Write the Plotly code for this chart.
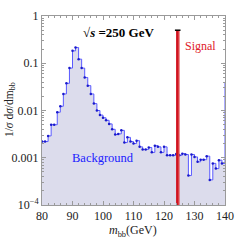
import plotly.graph_objects as go

# ---- data ----
bin_lo = list(range(80, 141))  # left edges of 1 GeV bins (last one is cut by the axis)
bkg = [0.0022, 0.0022, 0.0029, 0.0050, 0.0050, 0.0092, 0.0123, 0.0224, 0.0376, 0.079,
       0.183, 0.215, 0.122, 0.079, 0.050, 0.0336, 0.0224, 0.0140, 0.0100, 0.0080,
       0.0070, 0.0062, 0.0052, 0.0040, 0.0031, 0.0032, 0.0038, 0.0021, 0.0027, 0.0022,
       0.0020, 0.0023, 0.0017, 0.0015, 0.0015, 0.00165, 0.0013, 0.0018, 0.0017, 0.0013,
       0.0017, 0.00113, 0.00113, 0.00113, 0.0012, 0.00113, 0.00122, 0.00117, 0.00042, 0.00117,
       0.00104, 0.00082, 0.00091, 0.00091, 0.00108, 0.00034, 0.00076, 0.00059, 0.00089, 0.00076,
       0.04]
signal_x = [124.5]
signal_y = [0.5]
x_ticks = [80, 90, 100, 110, 120, 130, 140]
y_ticks = [1e-4, 1e-3, 1e-2, 1e-1, 1]
y_ticktext = ["10<sup>−4</sup>", "0.001", "0.01", "0.1", "1"]

serif = "Liberation Serif"
grey = "#9a9a9a"
y_min = y_ticks[0]

xs = bin_lo + [bin_lo[-1] + 1]
ys = bkg + [bkg[-1]]

fig = go.Figure()
# baseline for fill
fig.add_trace(go.Scatter(x=[xs[0], xs[-1]], y=[1e-5, 1e-5], mode="lines",
                         line=dict(width=0, color="rgba(0,0,0,0)"), hoverinfo="skip",
                         showlegend=False))
fig.add_trace(go.Scatter(x=xs, y=ys, mode="lines", line=dict(shape="hv", color="#5a5aff", width=1),
                         fill="tonexty", fillcolor="#dcdcec", showlegend=False))
fig.add_trace(go.Scatter(x=bin_lo[:-1], y=bkg[:-1], mode="markers",
                         marker=dict(size=2.5, color="#1a1acc"), showlegend=False))
# signal: a 1 GeV wide spike drawn as a thick line from the axis floor to its value
for sx, sy in zip(signal_x, signal_y):
    fig.add_trace(go.Scatter(x=[sx, sx], y=[y_min, sy], mode="lines",
                             line=dict(color="#d01420", width=3.3), showlegend=False))
    fig.add_trace(go.Scatter(x=[sx + 0.4, sx + 0.4], y=[y_min, sy], mode="lines",
                             line=dict(color="#ee7070", width=0.8), showlegend=False))
fig.add_trace(go.Scatter(x=signal_x, y=signal_y, mode="markers",
                         marker=dict(symbol="line-ew", size=4, line=dict(color="black", width=1.5)),
                         showlegend=False))

minor_y = [m * 10 ** e for e in range(-4, 0) for m in range(2, 10)]

fig.update_xaxes(range=[80, 140], tickvals=x_ticks, ticks="inside", ticklen=4, tickcolor=grey,
                 showline=True, linecolor=grey, linewidth=1, mirror="ticks", showgrid=False,
                 zeroline=False, tickfont=dict(family=serif, size=12, color="#222"),
                 minor=dict(dtick=2, ticks="inside", ticklen=2, tickcolor=grey, showgrid=False))
fig.update_yaxes(type="log", range=[-4, 0], tickvals=y_ticks, ticktext=y_ticktext,
                 ticks="inside", ticklen=4, tickcolor=grey, showline=True, linecolor=grey,
                 linewidth=1, mirror="ticks", showgrid=False, zeroline=False,
                 tickfont=dict(family=serif, size=12, color="#222"),
                 minor=dict(tickvals=minor_y, ticks="inside", ticklen=2, tickcolor=grey, showgrid=False))

W, H = 243, 243
L, R, T, B = 42, 9, 13, 38
pw, ph = W - L - R, H - T - B

def px(xp):
    return (xp - L) / pw

def py(yp):
    return (H - B - yp) / ph

def ann(text, x, y, size, color, angle=0):
    return dict(text=text, x=px(x), y=py(y), xref="paper", yref="paper", showarrow=False,
                xanchor="center", yanchor="middle", textangle=angle,
                font=dict(family=serif, size=size, color=color))

fig.update_layout(
    width=W, height=H, margin=dict(l=L, r=R, t=T, b=B),
    paper_bgcolor="white", plot_bgcolor="white",
    annotations=[
        ann("<b>√<i>s</i> =250 GeV</b>", 122, 30, 13, "black"),
        ann("Signal", 208, 43, 12, "#e0202a"),
        ann("Background", 106, 157, 12.5, "#2020ff"),
        ann("1/<i>σ</i> d<i>σ</i>/dm<sub>bb</sub>", 8, 108, 11.5, "#222", -90),
        ann("<i>m</i><sub>bb</sub>(GeV)", 137, 231, 12, "#222"),
    ],
)

fig.write_html("out.html", config={"displayModeBar": False},
               post_script="document.body.style.margin='0';document.body.style.overflow='hidden';")
